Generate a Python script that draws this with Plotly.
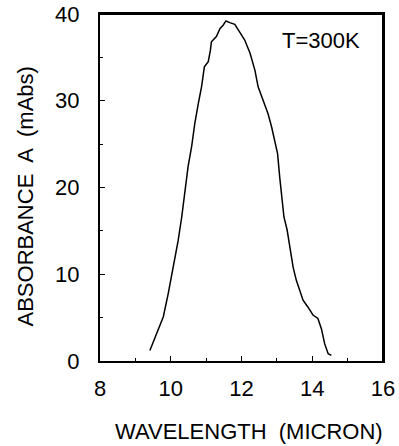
import plotly.graph_objects as go

wavelength = [9.41, 9.60, 9.79, 9.93, 10.07, 10.21, 10.31, 10.40, 10.49, 10.59, 10.68,
              10.78, 10.87, 10.95, 11.06, 11.12, 11.15, 11.29, 11.39, 11.48, 11.56,
              11.67, 11.81, 11.95, 12.09, 12.24, 12.38, 12.47, 12.61, 12.75, 12.85,
              12.94, 13.02, 13.08, 13.16, 13.20, 13.29, 13.36, 13.46, 13.55, 13.65,
              13.74, 13.88, 14.02, 14.16, 14.26, 14.35, 14.45, 14.54]
absorbance = [1.2, 3.15, 5.1, 7.8, 10.8, 13.9, 16.6, 19.3, 22.4, 24.7, 27.4,
              29.7, 31.6, 33.9, 34.5, 35.8, 36.8, 37.4, 38.3, 38.7, 39.2,
              39.0, 38.8, 37.9, 37.0, 35.5, 33.5, 31.6, 30.1, 28.5, 27.0,
              25.5, 23.9, 21.2, 18.5, 16.6, 15.1, 13.2, 10.8, 9.3, 8.2,
              7.0, 6.2, 5.3, 4.9, 3.7, 2.0, 0.85, 0.65]
x_ticks = [8, 10, 12, 14, 16]
y_ticks = [0, 10, 20, 30, 40]
x_range = [8, 16]
y_range = [0, 40]

FONT = "Liberation Sans, Arial, sans-serif"

fig = go.Figure()
fig.add_trace(go.Scatter(x=wavelength, y=absorbance, mode="lines",
                         line=dict(color="black", width=1.5), showlegend=False))

axis_common = dict(showline=True, linecolor="black", linewidth=2, mirror=True,
                   showgrid=False, zeroline=False, ticks="inside", ticklen=5,
                   tickcolor="black", tickwidth=1.2, automargin=False,
                   tickfont=dict(family=FONT, size=22, color="black"))

fig.update_xaxes(range=x_range, tickvals=x_ticks, ticktext=[str(v) for v in x_ticks],
                 minor=dict(dtick=1, ticks="inside", ticklen=3, tickcolor="black"),
                 ticklabelstandoff=7, **axis_common)
fig.update_yaxes(range=y_range, tickvals=y_ticks, ticktext=[str(v) for v in y_ticks],
                 minor=dict(dtick=5, ticks="inside", ticklen=3, tickcolor="black"),
                 ticklabelstandoff=14, **axis_common)

# plot frame (top and right edges), drawn from the axis ranges
fig.add_shape(type="line", xref="x", yref="y", x0=x_range[0], x1=x_range[1],
              y0=y_range[1], y1=y_range[1], line=dict(color="black", width=2))
fig.add_shape(type="line", xref="x", yref="y", x0=x_range[1], x1=x_range[1],
              y0=y_range[0], y1=y_range[1], line=dict(color="black", width=2))

fig.add_annotation(text="WAVELENGTH  (MICRON)", xref="paper", yref="paper",
                   x=0.5 + 7.5 / 283, y=-70 / 347, yanchor="middle", showarrow=False,
                   font=dict(family=FONT, size=22, color="black"))
fig.add_annotation(text="ABSORBANCE  A  (mAbs)", xref="paper", yref="paper",
                   x=-75 / 283, y=0.5 - 9 / 347, xanchor="center", textangle=-90,
                   showarrow=False, font=dict(family=FONT, size=22, color="black"))
fig.add_annotation(text="T=300K", x=14.26, y=36.9, xref="x", yref="y", showarrow=False,
                   font=dict(family=FONT, size=22, color="black"))

fig.update_layout(width=399, height=446, margin=dict(l=100, r=16, t=14, b=85),
                  plot_bgcolor="white", paper_bgcolor="white")
fig.write_html("out.html", config={"displayModeBar": False},
               post_script="document.body.style.margin='0';document.body.style.padding='0';")
